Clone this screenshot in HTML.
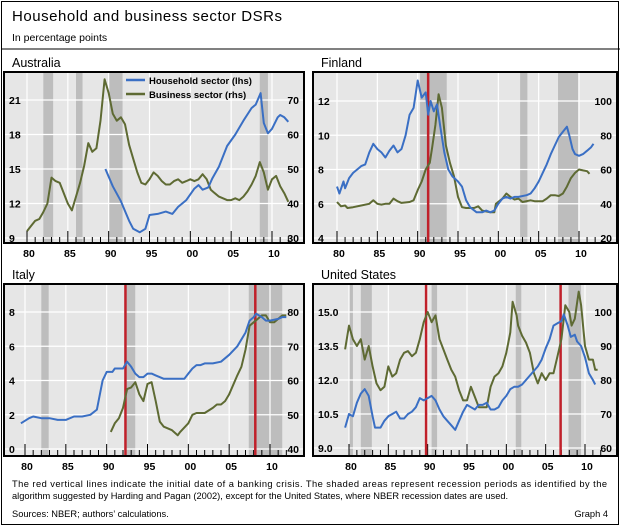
<!DOCTYPE html>
<html><head><meta charset="utf-8">
<style>
body{margin:0;background:#fff;font-family:"Liberation Sans",Arial,sans-serif;}
#wrap{position:relative;width:621px;height:527px;overflow:hidden;}
svg text{font-family:"Liberation Sans",Arial,sans-serif;}
</style></head>
<body>
<div id="wrap">
<svg id="svg" width="621" height="527" xmlns="http://www.w3.org/2000/svg">
<rect x="1.5" y="1.5" width="617" height="523" fill="#fff" stroke="#000" stroke-width="1"/>
<text x="12" y="21" font-size="15" textLength="270" fill="#000">Household and business sector DSRs</text>
<text x="12" y="41" font-size="10.5" fill="#000">In percentage points</text>
<line x1="1" y1="49" x2="620" y2="49" stroke="#000" stroke-width="1"/>
<text x="12" y="487" font-size="9.3" textLength="595" lengthAdjust="spacing">The red vertical lines indicate the initial date of a banking crisis. The shaded areas represent recession periods as identified by the</text>
<text x="12" y="499" font-size="9.3">algorithm suggested by Harding and Pagan (2002), except for the United States, where NBER recession dates are used.</text>
<text x="12" y="517" font-size="9.3">Sources: NBER; authors’ calculations.</text>
<text x="608" y="517" font-size="9.3" text-anchor="end">Graph 4</text>
</svg>
</div>
<script>
// ---- Data arrays (year offsets: 80 = 1980, 100 = 2000) ----
const auHHYears=[89.6,90.5,91.5,92.5,93,93.8,94.5,95,96,97,97.8,98.5,99.5,100.5,101,101.5,102.2,102.7,103.5,104.5,105.5,106.5,107.5,108,108.6,109,109.5,110,110.7,111,111.5,112];
const auHHValues=[15,13.5,12.2,10.5,9.8,9.5,9.8,11,11.1,11.3,11.1,11.7,12.3,13.3,13.6,13.2,13.4,14.2,15.2,17,18,19.2,20.3,20.6,21.6,19,18.1,18.5,19.5,19.7,19.5,19.1];
const auBSYears=[80,80.5,81,81.5,82,82.5,83,83.5,84,84.5,85,85.5,86,86.5,87,87.5,88,88.5,89,89.5,90,90.5,91,91.5,92,92.5,93,93.5,94,94.5,95,95.5,96,96.5,97,97.5,98,98.5,99,99.5,100,100.5,101,101.5,102,102.5,103,103.5,104,104.5,105,105.5,106,106.5,107,107.5,108,108.5,109,109.5,110,110.5,111,111.5,112];
const auBSValues=[32,33.5,35,35.5,37.5,40,47.5,46.5,46,43,40,38,42,46,51,57.5,55,56,64,76,72,66,64,65,63,57,53,49,46,45.5,47,49,48,46.5,45.5,45.5,46.5,47,46,46.5,47,46.5,47,48.5,47,44,43,42,41.5,41,41,41.5,41,42,43.5,45.5,48,52,49,44,47,48,45,43,40.5];

const fiHHYears=[80,80.3,80.8,81,81.5,82,82.5,83,83.5,84,84.5,85,85.5,86,86.5,87,87.5,88,88.5,89,89.5,90,90.5,91,91.3,91.6,92,92.4,92.8,93.3,93.8,94.3,95,95.5,96,96.5,97.3,98,98.5,99,99.5,100,100.5,101,101.5,102,102.5,103.5,104,104.5,105,105.5,106,106.5,107,107.5,108,108.5,108.8,109.2,109.5,110,110.5,111,111.5,111.8];
const fiHHValues=[7,6.6,7.3,6.9,7.5,7.8,8,8.2,8.3,9,9.5,9.2,9,8.7,9.1,9.4,9,9.2,10,11.2,11.6,13.2,12.2,12.5,11.2,12,11.4,11.8,10.5,9,8,7.6,7.3,7,6.2,5.8,5.5,5.5,5.6,5.5,5.6,6,6.3,6.4,6.3,6.4,6.4,6.5,6.6,6.9,7.3,7.8,8.3,8.9,9.4,9.9,10.2,10.5,10,9.2,8.9,8.8,8.9,9.1,9.3,9.5];
const fiBSYears=[80,80.5,81,81.3,82,83,84,84.5,85,85.5,86,86.5,87,87.5,88,89,89.5,90,90.5,91,91.5,91.8,92.2,92.6,93,93.5,94,94.5,95,95.5,96,97,97.5,98,99,99.5,99.7,100.5,101,101.5,102,102.5,103,104,104.5,105.5,106,106.5,107,107.5,108,108.5,109,109.5,110,110.5,111,111.3];
const fiBSValues=[41,38.5,39,37.5,38,39,40,42,40,39.5,40,40,43,41.5,40.5,41,42,48,53,60,64,73,86,104,96,74,64,56,44,38,37.5,37.5,38.5,36,35,35,40,43,46,44,42.5,43,41,42,41.5,41.5,43,45,45,44.5,46,50,55,58,60,59.5,59,57.5];

const itHHYears=[79.5,80.5,81,82,83,84,85,86,87,88,88.8,89.5,90,90.7,91,92,92.5,93,93.5,94,94.5,95,95.5,96,97,98,99,99.5,100,100.5,101,101.5,102,103,104,105,106,107,107.5,108,108.3,109,109.5,110,111,111.5,112];
const itHHValues=[1.5,1.8,1.9,1.8,1.8,1.7,1.7,1.9,1.9,2.0,2.3,4,4.5,4.5,4.7,4.7,5.1,4.8,4.4,4.2,4.2,4.4,4.4,4.3,4.1,4.1,4.1,4.1,4.4,4.7,4.9,4.9,5,5,5.1,5.5,6,6.8,7.5,7.7,7.9,7.7,7.5,7.5,7.6,7.7,7.7];
const itBSYears=[90.5,91,91.5,92,92.5,93,93.5,94,94.5,95,95.5,96,96.5,97,98,98.7,99,100,100.5,101,102,103,103.5,104,104.5,105,106,106.5,107,107.5,108,108.5,109,109.5,110,110.5,111,111.5,112];
const itBSValues=[45,47.5,49,52,57.5,58,59.5,56,54,59,59.5,54,48,46.5,45.5,44,45,47.5,50,50.5,50.5,52,53,53,54,56,61.5,64,69,76,77,78,79,79,77,77,78,79,79];

const usHHYears=[79.5,80,80.5,81,81.5,82,82.5,83,83.3,84,84.5,85,85.5,86,86.5,87,87.5,88,88.5,89,89.5,90,90.5,91,91.5,92,92.5,93,93.5,94,94.5,95,95.5,96,96.5,97,97.5,98,98.5,99,99.5,100,100.5,101,101.5,102,102.5,103,103.5,104,104.5,105,105.5,106,106.5,107,107.3,107.8,108.2,108.7,109,109.5,110,110.5,111,111.3];
const usHHValues=[9.9,10.5,10.4,11.0,11.4,11.6,11.3,10.4,9.9,9.9,10.2,10.4,10.5,10.6,10.3,10.3,10.5,10.6,10.8,11.2,11.1,11.2,11.3,11.1,10.7,10.4,10.2,10.0,9.8,10.2,10.6,10.9,10.8,10.7,10.9,10.9,11,10.7,10.7,10.8,11.1,11.3,11.6,11.7,11.7,11.8,12.0,12.2,12.4,12.6,12.9,13.4,13.8,14.4,14.5,14.6,14.9,14.4,13.9,14.0,13.7,13.5,13.0,12.3,12.0,11.8];
const usBSYears=[79.5,80,80.5,81,81.5,82,82.5,83,83.5,84,84.5,85,85.5,86,86.5,87,87.5,88,88.5,89,89.5,90,90.5,91,91.5,92,92.5,93,93.5,94,94.5,95,95.5,96,96.5,97,97.5,98,98.5,99,99.5,100,100.5,100.8,101.3,101.5,102,102.5,103,103.5,104,104.5,105,105.5,106,106.5,107,107.5,108,108.3,108.7,109.2,109.5,110,110.5,111,111.3,111.6];
const usBSValues=[89,96,92,90,92,86,90,84,79,77,78,84,81,82,86,88,88.5,87,88,92,97,100,97,99,92,89,86,83,81,77,74,74,78,75,72,72,72,78,81,82,84,88,94,103,99,96,93,91,88,82,79,82,80,82,82,87,92,102,100,96,98,106,102,90,86,86,83,83];

// Recessions [start,end] and crisis years
const auRec=[[82,83.2],[86,86.8],[90,91.7],[108.5,109.5]];
const fiRec=[[90.3,93.6],[102.7,103.6],[107.4,109.9]];
const itRec=[[82,82.9],[92.3,93.5],[107.4,111.5]];
const usRec=[[80,80.5],[81.5,82.9],[90.5,91.2],[101.2,101.9],[107.9,109.5]];
const auCrisis=[], fiCrisis=[91.3], itCrisis=[92.3,108.2], usCrisis=[89.8,106.9];

const auLeftTicks=[9,12,15,18,21], auRightTicks=[30,40,50,60,70];
const fiLeftTicks=[4,6,8,10,12], fiRightTicks=[20,40,60,80,100];
const itLeftTicks=[0,2,4,6,8], itRightTicks=[40,50,60,70,80];
const usLeftTicks=[9.0,10.5,12.0,13.5,15.0], usRightTicks=[60,70,80,90,100];
const yearLabels=["80","85","90","95","00","05","10"];

const NS="http://www.w3.org/2000/svg";
const svg=document.getElementById('svg');
function mk(tag,attrs,parent){const e=document.createElementNS(NS,tag);for(const k in attrs)e.setAttribute(k,attrs[k]);(parent||svg).appendChild(e);return e;}

function panel(cfg){
  const g=mk('g',{});
  
  
  const t=mk('text',{x:cfg.bx+8,y:cfg.by-5,'font-size':12.5},g);t.textContent=cfg.title;
  
  
  const X=y=>cfg.x0+(y-80)*(cfg.x1-cfg.x0)/30;
  const L=v=>cfg.ly0+(v-cfg.lv0)*(cfg.ly1-cfg.ly0)/(cfg.lv1-cfg.lv0);
  const R=v=>cfg.ly0+(v-cfg.rv0)*(cfg.ly1-cfg.ly0)/(cfg.rv1-cfg.rv0);
  const bg=mk('rect',{x:cfg.bx,y:cfg.by,width:cfg.bw,height:cfg.bh,fill:'#e6e6e6'},g);
  
  
  cfg.rec.forEach(r=>{const e=mk('rect',{x:X(r[0]),y:cfg.by,width:X(r[1])-X(r[0]),height:cfg.bh,fill:'#bdbdbd'},g);
    
    });
  for(let yr=80;yr<=110;yr+=5){const e=mk('line',{x1:X(yr),x2:X(yr),y1:cfg.by,y2:cfg.by+cfg.bh,stroke:'#fff','stroke-width':1.2},g);
    
    }
  cfg.lt.forEach(v=>{const e=mk('line',{x1:cfg.bx,x2:cfg.bx+cfg.bw,y1:L(v),y2:L(v),stroke:'#fff','stroke-width':1.2},g);
    
    });
  for(let yr=80;yr<=112;yr++){const big=yr%5==0;const e=mk('line',{x1:X(yr),x2:X(yr),y1:cfg.by+cfg.bh,y2:cfg.by+cfg.bh-(big?12:6),stroke:'#000','stroke-width':1},g);
    
    }
  cfg.crisis.forEach(c=>{const e=mk('line',{x1:X(c),x2:X(c),y1:cfg.by,y2:cfg.by+cfg.bh,stroke:'#c0202a','stroke-width':2.5},g);
    
    });
  const path=(ys,vs,f,col,nm)=>{const d=ys.map((y,i)=>(i?'L':'M')+X(y).toFixed(1)+','+f(vs[i]).toFixed(1)).join('');
    const e=mk('path',{d:d,fill:'none',stroke:col,'stroke-width':2,'stroke-linejoin':'round'},g);
    
    };
  path(cfg.bsY,cfg.bsV,R,'#5e6a33',cfg.name+'-business-line');
  path(cfg.hhY,cfg.hhV,L,'#3a6fc4',cfg.name+'-household-line');
  const fr=mk('rect',{x:cfg.bx,y:cfg.by,width:cfg.bw,height:cfg.bh,fill:'none',stroke:'#000','stroke-width':2},g);
  
  
  cfg.lt.forEach(v=>{const e=mk('text',{x:cfg.bx+5,y:L(v)+4,'font-size':10.5,'font-weight':'bold'},g);e.textContent=cfg.lfmt(v);
    
    });
  cfg.rt.forEach(v=>{const e=mk('text',{x:cfg.bx+cfg.bw-5,y:R(v)+4,'font-size':10.5,'font-weight':'bold','text-anchor':'end'},g);e.textContent=String(v);
    
    });
  yearLabels.forEach((lb,i)=>{const e=mk('text',{x:X(80+5*i)+2,y:cfg.by+cfg.bh+14,'font-size':10.5,'font-weight':'bold','text-anchor':'middle'},g);e.textContent=lb;
    
    });
}
panel({name:'australia',title:'Australia',bx:4,by:72,bw:300,bh:171,x0:27,x1:272,ly0:100,ly1:238,lv0:21,lv1:9,rv0:70,rv1:30,
  lt:auLeftTicks,rt:auRightTicks,lfmt:v=>String(v),rec:auRec,crisis:auCrisis,hhY:auHHYears,hhV:auHHValues,bsY:auBSYears,bsV:auBSValues});
panel({name:'finland',title:'Finland',bx:313,by:72,bw:304,bh:171,x0:337,x1:579,ly0:101,ly1:238,lv0:12,lv1:4,rv0:100,rv1:20,
  lt:fiLeftTicks,rt:fiRightTicks,lfmt:v=>String(v),rec:fiRec,crisis:fiCrisis,hhY:fiHHYears,hhV:fiHHValues,bsY:fiBSYears,bsV:fiBSValues});
panel({name:'italy',title:'Italy',bx:4,by:284,bw:300,bh:172,x0:25,x1:270,ly0:312,ly1:449,lv0:8,lv1:0,rv0:80,rv1:40,
  lt:itLeftTicks,rt:itRightTicks,lfmt:v=>String(v),rec:itRec,crisis:itCrisis,hhY:itHHYears,hhV:itHHValues,bsY:itBSYears,bsV:itBSValues});
panel({name:'united-states',title:'United States',bx:313,by:284,bw:304,bh:172,x0:349,x1:585,ly0:312,ly1:448,lv0:15,lv1:9,rv0:100,rv1:60,
  lt:usLeftTicks,rt:usRightTicks,lfmt:v=>v.toFixed(1),rec:usRec,crisis:usCrisis,hhY:usHHYears,hhV:usHHValues,bsY:usBSYears,bsV:usBSValues});

// legend
const lg=mk('g',{});


const l1=mk('line',{x1:126,x2:145,y1:80,y2:80,stroke:'#3a6fc4','stroke-width':2.5},lg);


const t1=mk('text',{x:149,y:84,'font-size':9.5,'font-weight':'bold'},lg);t1.textContent='Household sector (lhs)';


const l2=mk('line',{x1:126,x2:145,y1:94,y2:94,stroke:'#5e6a33','stroke-width':2.5},lg);


const t2=mk('text',{x:149,y:98,'font-size':9.5,'font-weight':'bold'},lg);t2.textContent='Business sector (rhs)';


</script>
</body></html>
